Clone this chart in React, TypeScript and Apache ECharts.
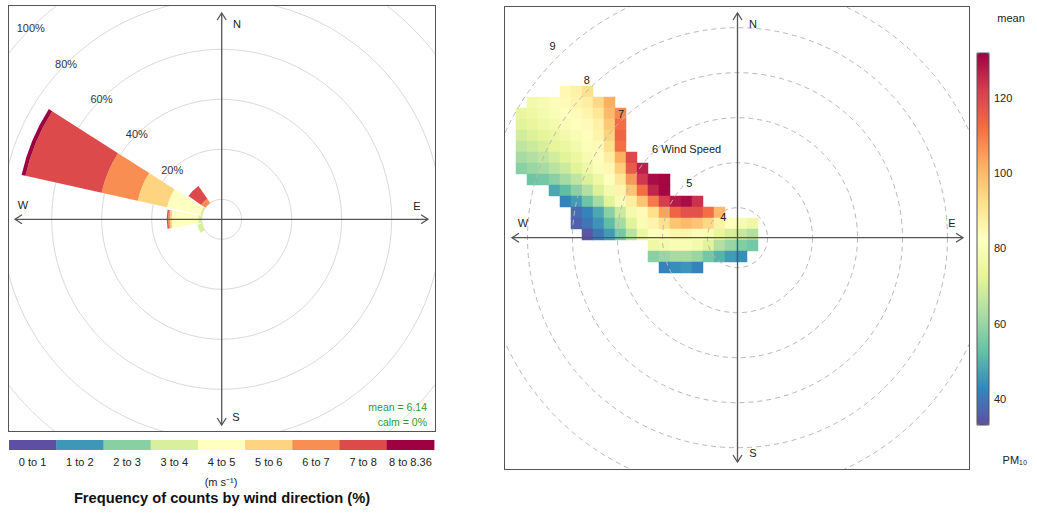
import React, { useEffect, useRef } from 'react';
import * as echarts from 'echarts';

const FONT = '"Liberation Sans", Arial, Helvetica, sans-serif';

// ---------------- Wind rose (left panel) ----------------
const DIRECTIONS = ['N', 'NNE', 'NE', 'ENE', 'E', 'ESE', 'SE', 'SSE', 'S', 'SSW', 'SW', 'WSW', 'W', 'WNW', 'NW', 'NNW'];
const SPEED_BINS = ['0 to 1', '1 to 2', '2 to 3', '3 to 4', '4 to 5', '5 to 6', '6 to 7', '7 to 8', '8 to 8.36'];
const BIN_COLORS = ['#5E4FA2', '#3F97B7', '#88CFA4', '#D8EF9B', '#FFFFBF', '#FED481', '#F98E52', '#DD4A4B', '#9E0142'];
// frequency (%) of each speed bin, per direction (directions not listed are 0)
const FREQ_WSW = [0, 0, 0, 2.0, 0, 0, 0, 0, 0];
const FREQ_W = [0, 0, 0, 1.4, 10.6, 0.8, 0.6, 0.6, 0];
const FREQ_WNW = [0, 0, 0, 0.8, 13.6, 12.0, 14.8, 31.2, 1.6];
const FREQ_NW = [0, 0, 0, 0, 0, 0, 2.0, 6.2, 0];
const PERCENT_MAX = 100;
const PERCENT_STEP = 20;
const MEAN_WS = 6.14;
const CALM_PCT = 0;

// ---------------- Polar plot (right panel) ----------------
const WS_LABELS = [4, 5, 6, 7, 8, 9];
const WS_AT_CENTER = 3.3333;
const WS_MAX = 9;
const PM10_COLORS = ['#5E4FA2', '#3288BD', '#66C2A5', '#ABDDA4', '#E6F598', '#FFFFBF', '#FEE08B', '#FDAE61', '#F46D43', '#D53E4F', '#9E0142'];
const PM10_MIN = 33;
const PM10_MAX = 132;
const PM10_TICKS = [40, 60, 80, 100, 120];
const GRID_COLS = 22;
const GRID_ROWS = 17;
// first column index of each row of the surface, then the mean PM10 of each cell
const PM10_ROW_START = [4, 1, 0, 0, 0, 0, 0, 0, 1, 3, 4, 5, 5, 6, 12, 12, 13];
const PM10_ROWS = [
  [85, 87, 92],
  [78, 79, 81, 84, 86, 88, 94, 102],
  [74, 76, 78, 80, 82, 84, 86, 90, 100, 108],
  [72, 74, 76, 78, 80, 82, 84, 87, 97, 112],
  [69, 71, 73, 75, 78, 80, 83, 86, 95, 114],
  [66, 68, 70, 73, 75, 78, 81, 84, 92, 112],
  [62, 64, 66, 69, 72, 75, 79, 83, 88, 102, 120],
  [58, 60, 62, 65, 68, 72, 76, 81, 85, 96, 116, 127],
  [54, 55, 58, 62, 66, 71, 76, 82, 90, 106, 123, 130, 131],
  [48, 52, 58, 64, 71, 78, 86, 98, 112, 126, 131],
  [42, 46, 54, 62, 72, 80, 88, 98, 110, 122, 128, 130, 124],
  [38, 42, 48, 58, 68, 78, 84, 92, 104, 114, 118, 118, 112, 100],
  [36, 40, 45, 52, 62, 72, 80, 86, 92, 98, 100, 98, 94, 87, 82, 79, 76],
  [34, 40, 46, 55, 65, 75, 82, 84, 86, 86, 84, 80, 74, 70, 67, 64],
  [76, 78, 80, 80, 78, 72, 64, 60, 57, 55],
  [58, 60, 62, 62, 60, 55, 50, 46, 44],
  [42, 44, 45, 42],
];

// ---------------- helpers ----------------
const AXIS_COLOR = '#555';

function txt(text: string, x: number, y: number, extra: any = {}) {
  return {
    type: 'text',
    z: 20,
    silent: true,
    style: {
      text,
      x,
      y,
      fill: '#222',
      fontSize: 11,
      fontFamily: FONT,
      textAlign: 'center',
      textVerticalAlign: 'middle',
      align: 'center',
      verticalAlign: 'middle',
      ...extra,
    },
  };
}

function arrows(cx: number, cy: number, top: number, bottom: number, left: number, right: number) {
  const st = { stroke: AXIS_COLOR, lineWidth: 1.3, fill: 'none' };
  const h = 7;
  const w = 4.5;
  return [
    { type: 'line', z: 10, silent: true, shape: { x1: cx, y1: top, x2: cx, y2: bottom }, style: st },
    { type: 'line', z: 10, silent: true, shape: { x1: left, y1: cy, x2: right, y2: cy }, style: st },
    { type: 'polyline', z: 10, silent: true, shape: { points: [[cx - w, top + h], [cx, top], [cx + w, top + h]] }, style: st },
    { type: 'polyline', z: 10, silent: true, shape: { points: [[cx - w, bottom - h], [cx, bottom], [cx + w, bottom - h]] }, style: st },
    { type: 'polyline', z: 10, silent: true, shape: { points: [[left + h, cy - w], [left, cy], [left + h, cy + w]] }, style: st },
    { type: 'polyline', z: 10, silent: true, shape: { points: [[right - h, cy - w], [right, cy], [right - h, cy + w]] }, style: st },
  ];
}

const hidden = { axisLine: { show: false }, axisTick: { show: false }, axisLabel: { show: false }, splitLine: { show: false } };

// ---------------- options ----------------
function roseOption() {
  const freq: Record<string, number[]> = { WSW: FREQ_WSW, W: FREQ_W, WNW: FREQ_WNW, NW: FREQ_NW };
  const cx = 212.7;
  const cy = 213.3;
  return {
    animation: false,
    polar: [
      { center: [cx, cy], radius: [20, 270] },
      { center: [cx, cy], radius: [20, 270] },
    ],
    angleAxis: [
      { polarIndex: 0, type: 'category', data: DIRECTIONS, startAngle: 101.25, clockwise: true, boundaryGap: true, ...hidden },
      { polarIndex: 1, type: 'value', min: 0, max: 360, startAngle: 135, ...hidden },
    ],
    radiusAxis: [
      {
        polarIndex: 0, type: 'value', min: 0, max: PERCENT_MAX, interval: PERCENT_STEP,
        axisLine: { show: false }, axisTick: { show: false }, axisLabel: { show: false },
        splitLine: { show: true, lineStyle: { color: '#dadada', width: 1 } },
      },
      {
        polarIndex: 1, type: 'value', min: 0, max: PERCENT_MAX, interval: PERCENT_STEP, z: 8,
        axisLine: { show: false }, axisTick: { show: false }, splitLine: { show: false },
        axisLabel: {
          show: true, margin: 0, align: 'center', verticalAlign: 'middle', rotate: 0,
          fontSize: 11, color: '#333', fontFamily: FONT,
          formatter: (v: number) => (v === 0 ? '' : v + '%'),
        },
      },
    ],
    series: SPEED_BINS.map((bin, b) => ({
      type: 'bar',
      name: bin,
      coordinateSystem: 'polar',
      polarIndex: 0,
      stack: 'ws',
      barCategoryGap: '11%',
      silent: true,
      z: 3,
      itemStyle: { color: BIN_COLORS[b] },
      data: DIRECTIONS.map((d) => (freq[d] ? freq[d][b] : 0)),
    })),
    graphic: [
      ...arrows(cx, cy, 7, 419, 6, 419),
      txt('N', 228, 18),
      txt('E', 408, 200),
      txt('S', 227, 411),
      txt('W', 14, 199),
      txt('mean = ' + MEAN_WS.toFixed(2), 418, 401, { fill: '#2E9A2E', fontSize: 10.5, textAlign: 'right', align: 'right' }),
      txt('calm = ' + CALM_PCT + '%', 418, 416, { fill: '#2E9A2E', fontSize: 10.5, textAlign: 'right', align: 'right' }),
    ],
  };
}

function legendOption() {
  const x0 = 9;
  const w = 425 / SPEED_BINS.length;
  return {
    animation: false,
    graphic: [
      ...SPEED_BINS.map((bin, i) => ({
        type: 'rect', silent: true,
        shape: { x: x0 + i * w, y: 7, width: w + 0.4, height: 10 },
        style: { fill: BIN_COLORS[i] },
      })),
      ...SPEED_BINS.map((bin, i) => txt(bin, x0 + (i + 0.5) * w, 29)),
      txt('(m s\u207B\u00B9)', 221, 49),
      txt('Frequency of counts by wind direction (%)', 222, 65, { fontSize: 14.7, fontWeight: 'bold', fill: '#111' }),
    ],
  };
}

function polarOption() {
  const cx = 232.5;
  const cy = 230.7;
  const pxPerWs = 45;
  const heat: number[][] = [];
  PM10_ROWS.forEach((row, r) => row.forEach((v, i) => heat.push([PM10_ROW_START[r] + i, r, v])));
  return {
    animation: false,
    grid: { left: 11, top: 79, width: 242, height: 187 },
    xAxis: { type: 'category', data: Array.from({ length: GRID_COLS }, (_, i) => String(i)), show: false },
    yAxis: { type: 'category', data: Array.from({ length: GRID_ROWS }, (_, i) => String(i)), show: false, inverse: true },
    visualMap: {
      type: 'continuous', show: false, min: PM10_MIN, max: PM10_MAX, dimension: 2, seriesIndex: 0,
      inRange: { color: PM10_COLORS },
    },
    polar: [
      { center: [cx, cy], radius: pxPerWs * (WS_MAX - WS_AT_CENTER) },
      { center: [229, 223.5], radius: 48.3 * (WS_MAX - 3.6) },
    ],
    angleAxis: [
      { polarIndex: 0, type: 'value', min: 0, max: 360, startAngle: 90, ...hidden },
      { polarIndex: 1, type: 'value', min: 0, max: 360, startAngle: 135, ...hidden },
    ],
    radiusAxis: [
      {
        polarIndex: 0, type: 'value', min: WS_AT_CENTER, max: WS_MAX, splitNumber: 6, z: 6,
        axisLine: { show: false }, axisTick: { show: false }, axisLabel: { show: false },
        splitLine: { show: true, lineStyle: { color: '#b8b8b8', width: 1, type: [5, 4] } },
      },
      {
        polarIndex: 1, type: 'value', min: 3.6, max: WS_MAX, splitNumber: 5, z: 8,
        axisLine: { show: false }, axisTick: { show: false }, splitLine: { show: false },
        axisLabel: {
          show: true, margin: 0, align: 'left', verticalAlign: 'middle', rotate: 0,
          fontSize: 11, color: '#222', fontFamily: FONT,
          formatter: (v: number) => (WS_LABELS.includes(v) ? (v === 6 ? '6 Wind Speed' : String(v)) : ''),
        },
      },
    ],
    series: [
      {
        type: 'heatmap', xAxisIndex: 0, yAxisIndex: 0, data: heat, silent: true, z: 2,
        itemStyle: { borderWidth: 0 },
      },
    ],
    graphic: [
      ...arrows(cx, cy, 6, 455, 7, 458),
      txt('N', 248, 17),
      txt('E', 447, 216),
      txt('S', 248, 446),
      txt('W', 18, 216),
    ],
  };
}

function colorbarOption() {
  return {
    animation: false,
    grid: { left: 11, top: 53, width: 12, height: 372, show: true, borderColor: '#555', borderWidth: 1, backgroundColor: 'transparent', z: 10 },
    xAxis: { type: 'value', min: 0, max: 1, show: false },
    yAxis: {
      type: 'value', position: 'right', min: PM10_MIN, max: PM10_MAX,
      axisLine: { show: false }, splitLine: { show: false },
      axisTick: { show: true, length: 4, lineStyle: { color: '#333' }, customValues: PM10_TICKS },
      axisLabel: {
        customValues: PM10_TICKS, fontSize: 11, color: '#222', margin: 5, fontFamily: FONT,
        formatter: (v: number) => (PM10_TICKS.includes(v) ? String(v) : ''),
      },
    },
    visualMap: {
      type: 'continuous', min: PM10_MIN, max: PM10_MAX, orient: 'vertical',
      left: 11, top: 53, itemWidth: 12, itemHeight: 372, padding: 0,
      calculable: false, inRange: { color: PM10_COLORS }, text: null, showLabel: false,
    },
    series: [],
    graphic: [
      txt('mean', 45, 18),
      txt('PM\u2081\u2080', 49, 460),
    ],
  };
}

function EChart({ option, style }: { option: any; style: React.CSSProperties }) {
  const ref = useRef<HTMLDivElement>(null);
  useEffect(() => {
    const chart = echarts.init(ref.current as HTMLDivElement, undefined, { renderer: 'svg' });
    chart.setOption(option);
    return () => chart.dispose();
  }, []);
  return <div ref={ref} style={style} />;
}

export default function App() {
  const box: React.CSSProperties = {
    position: 'absolute', border: '1px solid #555', boxSizing: 'border-box', overflow: 'hidden', background: '#fff',
  };
  return (
    <div style={{ position: 'absolute', left: 0, top: 0, width: 1037, height: 515, background: '#fff', overflow: 'hidden' }}>
      <div style={{ ...box, left: 8, top: 5, width: 428, height: 427 }}>
        <EChart option={roseOption()} style={{ width: 426, height: 425 }} />
      </div>
      <EChart option={legendOption()} style={{ position: 'absolute', left: 0, top: 433, width: 445, height: 82 }} />
      <div style={{ ...box, left: 504, top: 6, width: 466, height: 464 }}>
        <EChart option={polarOption()} style={{ width: 464, height: 462 }} />
      </div>
      <EChart option={colorbarOption()} style={{ position: 'absolute', left: 966, top: 0, width: 71, height: 475 }} />
    </div>
  );
}
